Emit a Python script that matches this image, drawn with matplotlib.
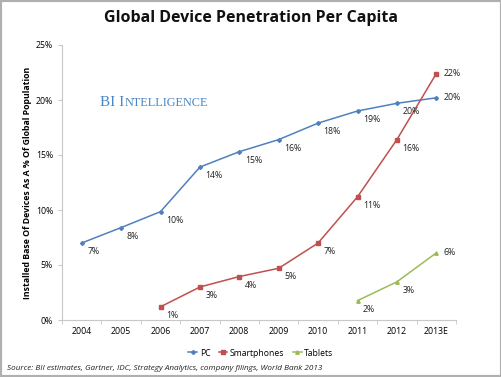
import matplotlib
matplotlib.use("Agg")
import matplotlib.pyplot as plt
from matplotlib.ticker import FuncFormatter
from matplotlib.patches import Rectangle

years = ["2004", "2005", "2006", "2007", "2008", "2009", "2010", "2011", "2012", "2013E"]
pc = [7.0, 8.4, 9.85, 13.9, 15.3, 16.4, 17.9, 19.0, 19.7, 20.2]
pc_labels = ["7%", "8%", "10%", "14%", "15%", "16%", "18%", "19%", "20%", "20%"]
smart_years = ["2006", "2007", "2008", "2009", "2010", "2011", "2012", "2013E"]
smart = [1.2, 3.0, 3.95, 4.7, 7.0, 11.2, 16.4, 22.4]
smart_labels = ["1%", "3%", "4%", "5%", "7%", "11%", "16%", "22%"]
tab_years = ["2011", "2012", "2013E"]
tablets = [1.76, 3.47, 6.1]
tab_labels = ["2%", "3%", "6%"]

fam = ["Open Sans", "DejaVu Sans"]
plt.rcParams['font.family'] = fam

fig = plt.figure(figsize=(5.02, 3.77), dpi=100)
fig.patches.append(Rectangle((0, 0), 1, 1, transform=fig.transFigure,
                             fill=False, edgecolor="#b0b0b0", linewidth=3))
ax = fig.add_axes([62/502, 1-320/377, (456-62)/502, (320-45)/377])

idx = {y: i for i, y in enumerate(years)}
series = [
    (years, pc, pc_labels, "#4f81bd", "D", 2, "PC"),
    (smart_years, smart, smart_labels, "#c0504d", "s", 2.5, "Smartphones"),
    (tab_years, tablets, tab_labels, "#9bbb59", "^", 2.5, "Tablets"),
]
last = len(years) - 1
for yrs, vals, labs, col, mk, ms, name in series:
    xs = [idx[y] for y in yrs]
    ax.plot(xs, vals, color=col, lw=1.1, marker=mk, ms=ms, label=name)
    for x, v, l in zip(xs, vals, labs):
        if x == last:
            ax.annotate(l, (x, v), xytext=(5, 0), textcoords="offset points",
                        ha="left", va="center", fontsize=6.3, color="#222222")
        else:
            ax.annotate(l, (x, v), xytext=(4, -3), textcoords="offset points",
                        ha="left", va="top", fontsize=6.3, color="#222222")

ax.set_xlim(-0.5, len(years) - 0.5)
ax.set_ylim(0, 25)
ax.set_yticks([0, 5, 10, 15, 20, 25])
ax.yaxis.set_major_formatter(FuncFormatter(lambda v, p: f"{v:.0f}%"))
ax.set_xticks(range(len(years)))
ax.set_xticklabels(years)
ax.set_xticks([i - 0.5 for i in range(len(years) + 1)], minor=True)
ax.tick_params(axis="x", which="major", length=0, labelsize=6.3, pad=5)
ax.tick_params(axis="x", which="minor", length=3, color="#c8c8c8")
ax.tick_params(axis="y", length=3, color="#c8c8c8", labelsize=6.3)
for s in ["top", "right"]:
    ax.spines[s].set_visible(False)
for s in ["left", "bottom"]:
    ax.spines[s].set_color("#c8c8c8")
    ax.spines[s].set_linewidth(0.8)

ax.set_ylabel("Installed Base Of Devices As A % Of Global Population",
              fontsize=6.3, fontweight="bold", labelpad=3)

fig.text(0.5, 1-18/377, "Global Device Penetration Per Capita", ha="center", va="center",
         fontsize=11.5, fontweight="bold", color="#111111")
serif = ["Liberation Serif", "DejaVu Serif"]
t1 = fig.text(100/502, 1-106/377, "BI I", ha="left", va="baseline",
              fontsize=11, color="#4a86c5", family=serif)
ann = matplotlib.text.Annotation("NTELLIGENCE", xy=(1, 0), xycoords=t1,
                                 xytext=(0.3, 0), textcoords="offset points",
                                 ha="left", va="bottom",
                                 fontsize=8.8, color="#4a86c5", family=serif)
fig.texts.append(ann)
ann.set_figure(fig)

fig.legend(loc="center", bbox_to_anchor=(0.52, 1-353/377), ncol=3, frameon=False,
           fontsize=6.2, handlelength=1.0, handletextpad=0.3, columnspacing=1.0,
           markerscale=1)

fig.text(7/502, 1-368/377,
         "Source: BII estimates, Gartner, IDC, Strategy Analytics, company filings, World Bank 2013",
         ha="left", va="center", fontsize=5.85, style="italic", color="#222222")

fig.savefig("out.png", dpi=100)
